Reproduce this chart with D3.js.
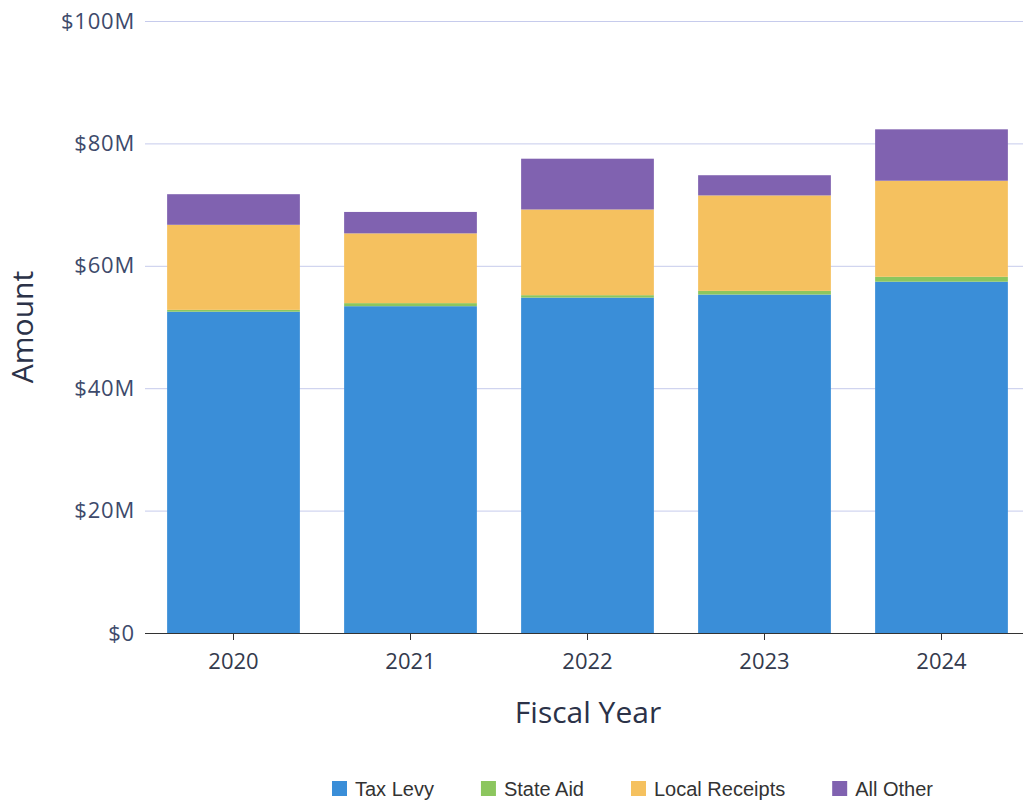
<!DOCTYPE html>
<html>
<head>
<meta charset="utf-8">
<script src="https://cdn.jsdelivr.net/npm/d3@7"></script>
<style>
  body { margin: 0; background: #fff; }
  svg { display: block; }
</style>
</head>
<body>
<div id="chart"></div>
<script>
// values in $M
var years = ["2020", "2021", "2022", "2023", "2024"];
var taxLevy = [52.5, 53.4, 54.8, 55.3, 57.4];
var stateAid = [0.3, 0.5, 0.4, 0.6, 0.8];
var localReceipts = [13.9, 11.4, 14.0, 15.6, 15.7];
var allOther = [5.0, 3.5, 8.3, 3.3, 8.4];
var yTicks = [0, 20, 40, 60, 80, 100];

var seriesNames = ["Tax Levy", "State Aid", "Local Receipts", "All Other"];
var seriesColors = ["#3a8ed8", "#8cc65e", "#f5c15f", "#8062b0"];

// plot box (note: "top" is taken by window.top, so use other names)
var W = 1023, H = 802;
var plotLeft = 145, plotRight = 1023, plotTop = 21, plotBottom = 633;

var rows = years.map(function(y, i) {
  return {
    year: y,
    "Tax Levy": taxLevy[i],
    "State Aid": stateAid[i],
    "Local Receipts": localReceipts[i],
    "All Other": allOther[i]
  };
});

var stack = d3.stack().keys(seriesNames)(rows);

var svg = d3.select("#chart")
  .append("svg")
  .attr("width", W)
  .attr("height", H);

var x = d3.scaleBand()
  .domain(years)
  .range([plotLeft, 1030])
  .paddingInner(0.25)
  .paddingOuter(0.125);

var y = d3.scaleLinear()
  .domain([0, 100])
  .range([plotBottom, plotTop]);

var color = d3.scaleOrdinal().domain(seriesNames).range(seriesColors);

// gridlines + y labels
var yAxis = svg.append("g")
  .attr("transform", "translate(" + plotLeft + ",0)")
  .call(d3.axisLeft(y)
    .tickValues(yTicks)
    .tickSize(-(plotRight - plotLeft))
    .tickPadding(10)
    .tickFormat(function(d) { return d === 0 ? "$0" : "$" + d + "M"; }));

yAxis.select(".domain").remove();
yAxis.selectAll(".tick line")
  .attr("stroke", "#c6cbec")
  .attr("stroke-width", 1);
yAxis.selectAll(".tick text")
  .attr("fill", "#3d4a6b")
  .style("font-family", "'Open Sans', sans-serif")
  .style("font-size", "22px")
  .style("letter-spacing", "0.8px");

// bars
svg.append("g")
  .selectAll("g")
  .data(stack)
  .join("g")
  .attr("fill", function(d) { return color(d.key); })
  .selectAll("rect")
  .data(function(d) { return d; })
  .join("rect")
  .attr("x", function(d) { return x(d.data.year); })
  .attr("y", function(d) { return y(d[1]); })
  .attr("width", x.bandwidth())
  .attr("height", function(d) { return y(d[0]) - y(d[1]); });

// x axis
var xAxis = svg.append("g")
  .attr("transform", "translate(0," + plotBottom + ")")
  .call(d3.axisBottom(x).tickSizeOuter(0).tickSize(7).tickPadding(13));

xAxis.select(".domain")
  .attr("d", "M" + plotLeft + ",0.5H" + plotRight)
  .attr("stroke", "#333");
xAxis.selectAll(".tick line").attr("stroke", "#333");
xAxis.selectAll(".tick text")
  .attr("fill", "#333a4d")
  .style("font-family", "'Open Sans', sans-serif")
  .style("font-size", "22px");

// titles
svg.append("text")
  .attr("x", 588)
  .attr("y", 723)
  .attr("text-anchor", "middle")
  .attr("fill", "#2b3248")
  .style("font-family", "'Open Sans', sans-serif")
  .style("font-size", "30px")
  .text("Fiscal Year");

svg.append("text")
  .attr("transform", "translate(33,327) rotate(-90)")
  .attr("text-anchor", "middle")
  .attr("fill", "#2b3248")
  .style("font-family", "'Open Sans', sans-serif")
  .style("font-size", "30px")
  .text("Amount");

// legend
var legend = svg.append("g").attr("transform", "translate(332,796)");
var lx = 0;
seriesNames.forEach(function(name) {
  var item = legend.append("g").attr("transform", "translate(" + lx + ",0)");
  item.append("rect")
    .attr("x", 0)
    .attr("y", -15)
    .attr("width", 15)
    .attr("height", 15)
    .attr("fill", color(name));
  var t = item.append("text")
    .attr("x", 23)
    .attr("y", 0)
    .attr("fill", "#333")
    .style("font-family", "'Liberation Sans', Arial, sans-serif")
    .style("font-size", "20px")
    .text(name);
  lx += 23 + t.node().getComputedTextLength() + 47;
});
</script>
</body>
</html>
